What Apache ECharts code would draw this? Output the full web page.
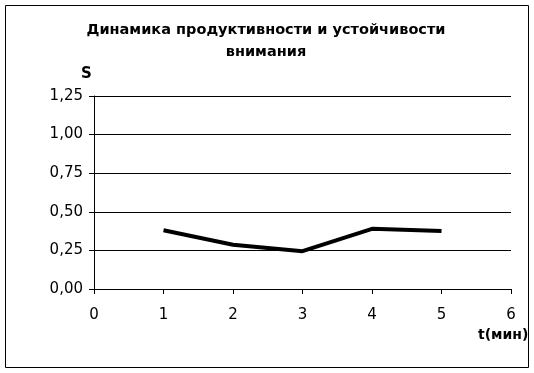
<!DOCTYPE html>
<html><head><meta charset="utf-8">
<script src="https://cdn.jsdelivr.net/npm/echarts@6/dist/echarts.min.js"></script>
<style>html,body{margin:0;padding:0;background:#fff}#c{width:534px;height:373px}</style>
</head><body><div id="c"></div>
<script>
const titleText = 'Динамика продуктивности и устойчивости\nвнимания';
const yName = 'S';
const xName = 't(мин)';
const xValues = [1, 2, 3, 4, 5];
const sValues = [0.38, 0.287, 0.245, 0.39, 0.375];
const yTicks = [0, 0.25, 0.5, 0.75, 1.0, 1.25];

const chart = echarts.init(document.getElementById('c'), null, {renderer: 'canvas'});
chart.setOption({
  backgroundColor: '#fff',
  animation: false,
  graphic: [{
    type: 'rect', shape: {x: 5.5, y: 5.5, width: 523, height: 362},
    style: {fill: 'none', stroke: '#000', lineWidth: 1}, silent: true
  }],
  title: [
    {text: titleText, left: 261, top: 14, textAlign: 'center',
     textStyle: {fontFamily: 'DejaVu Sans', fontWeight: 'bold', fontSize: 14.5, color: '#000', lineHeight: 22, align: 'center'}},
    {text: yName, left: 76, top: 62,
     textStyle: {fontFamily: 'DejaVu Sans', fontWeight: 'bold', fontSize: 15, color: '#000'}},
    {text: xName, left: 473, top: 323,
     textStyle: {fontFamily: 'DejaVu Sans', fontWeight: 'bold', fontSize: 14, color: '#000'}}
  ],
  grid: {left: 94, right: 23, top: 96, bottom: 84},
  xAxis: {
    type: 'value', min: 0, max: 6, interval: 1,
    axisLine: {show: true, lineStyle: {color: '#000', width: 1}},
    axisTick: {show: true, length: 5, lineStyle: {color: '#000'}},
    splitLine: {show: false},
    axisLabel: {color: '#000', fontFamily: 'DejaVu Sans', fontSize: 15, margin: 19}
  },
  yAxis: {
    type: 'value', min: 0, max: 1.25, interval: 0.25,
    axisLine: {show: true, lineStyle: {color: '#000', width: 1}},
    axisTick: {show: true, length: 5, lineStyle: {color: '#000'}},
    splitLine: {show: true, lineStyle: {color: '#000', width: 1}},
    axisLabel: {color: '#000', fontFamily: 'DejaVu Sans', fontSize: 15, margin: 11,
      formatter: v => v.toFixed(2).replace('.', ',')}
  },
  series: [{
    type: 'line',
    data: xValues.map((x, i) => [x, sValues[i]]),
    showSymbol: false,
    lineStyle: {color: '#000', width: 4},
    itemStyle: {color: '#000'}
  }]
});
</script></body></html>
